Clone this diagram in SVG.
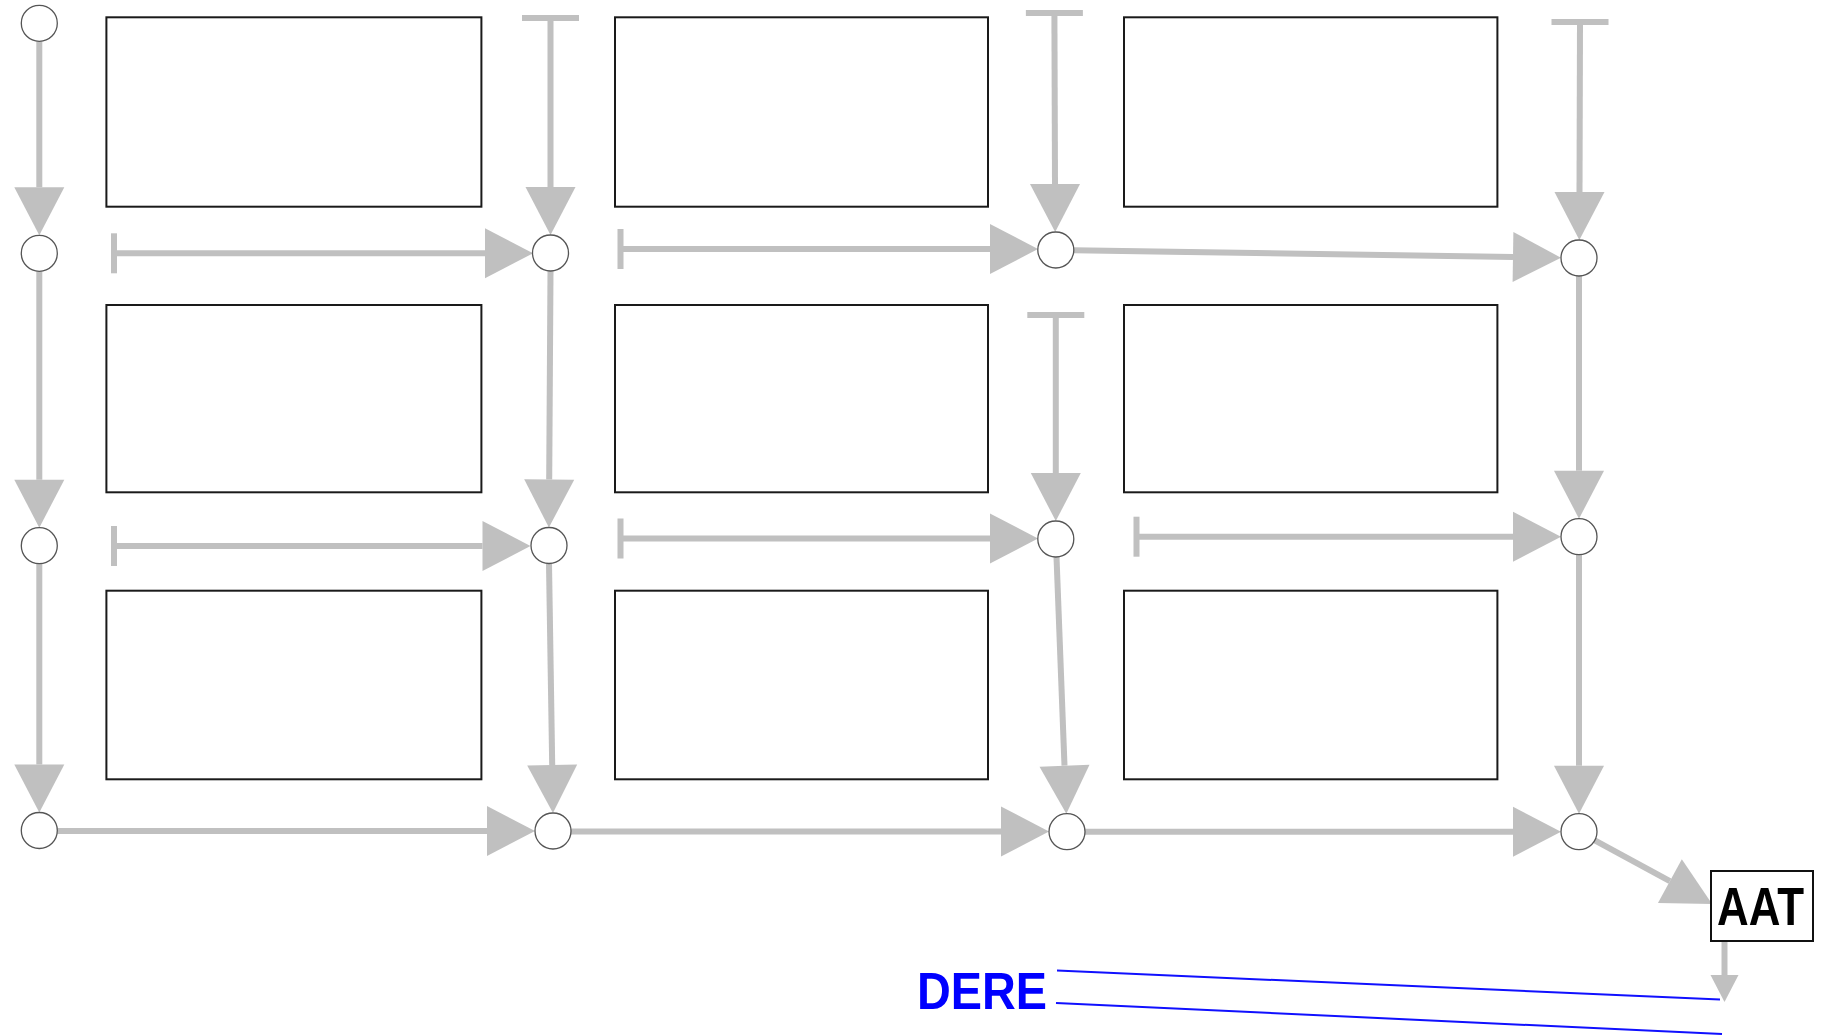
<svg xmlns="http://www.w3.org/2000/svg" width="1821" height="1036" viewBox="0 0 1821 1036">
<style>
.box{fill:#fff;stroke:#1a1a1a;stroke-width:2}
.nd{fill:#fff;stroke:#555;stroke-width:1.3}
.e{stroke:#c0c0c0;stroke-width:6;fill:none;marker-end:url(#ah)}
.t{marker-start:url(#tb)}
.th{marker-start:url(#tbh)}
.blue{stroke:#1010ff;stroke-width:2;fill:none}
.lbl{font-family:"Liberation Sans",Arial,sans-serif;font-weight:bold}
</style>
<defs>
<marker id="ah" markerUnits="userSpaceOnUse" markerWidth="50" markerHeight="52" viewBox="0 -26 50 52" refX="0" refY="0" orient="auto" overflow="visible">
<path d="M0,-25 L48,0 L0,25 z" fill="#c0c0c0"/>
</marker>
<marker id="ahs" markerUnits="userSpaceOnUse" markerWidth="30" markerHeight="30" viewBox="0 -15 30 30" refX="0" refY="0" orient="auto" overflow="visible">
<path d="M0,-14 L27,0 L0,14 z" fill="#c0c0c0"/>
</marker>
<marker id="tb" markerUnits="userSpaceOnUse" markerWidth="8" markerHeight="60" viewBox="-4 -30 8 60" refX="0" refY="0" orient="auto" overflow="visible">
<rect x="-3" y="-28.5" width="6" height="57" fill="#c0c0c0"/>
</marker>
<marker id="tbh" markerUnits="userSpaceOnUse" markerWidth="8" markerHeight="44" viewBox="-4 -22 8 44" refX="0" refY="0" orient="auto" overflow="visible">
<rect x="-3" y="-20" width="6" height="40" fill="#c0c0c0"/>
</marker>
</defs>
<rect width="1821" height="1036" fill="#fff"/>
<g id="blocks">
<rect id="b11" class="box" x="106.4" y="17.3" width="375" height="189.4"/>
<rect id="b12" class="box" x="615" y="17.3" width="373" height="189.4"/>
<rect id="b13" class="box" x="1124" y="17.3" width="373.4" height="189.4"/>
<rect id="b21" class="box" x="106.4" y="305" width="375" height="187.3"/>
<rect id="b22" class="box" x="615" y="305" width="373" height="187.3"/>
<rect id="b23" class="box" x="1124" y="305" width="373.4" height="187.3"/>
<rect id="b31" class="box" x="106.4" y="590.7" width="375" height="188.6"/>
<rect id="b32" class="box" x="615" y="590.7" width="373" height="188.6"/>
<rect id="b33" class="box" x="1124" y="590.7" width="373.4" height="188.6"/>
</g>
<g id="connectors">
<line class="e" x1="39.3" y1="41.3" x2="39.3" y2="187.3"/>
<line class="e" x1="39.3" y1="271.3" x2="39.3" y2="479.7"/>
<line class="e" x1="39.3" y1="563.7" x2="39.3" y2="764.5"/>
<line class="e" x1="57.3" y1="831" x2="487" y2="831"/>
<line class="e" x1="550.5" y1="271" x2="549.2" y2="479.5"/>
<line class="e" x1="549" y1="563.5" x2="552.2" y2="765"/>
<line class="e" x1="571" y1="831.5" x2="1001" y2="831.5"/>
<line class="e" x1="1073.8" y1="250.3" x2="1513" y2="257"/>
<line class="e" x1="1056.5" y1="557" x2="1064.5" y2="765.7"/>
<line class="e" x1="1085" y1="831.7" x2="1513" y2="831.7"/>
<line class="e" x1="1579" y1="276" x2="1579" y2="470.7"/>
<line class="e" x1="1579" y1="554.7" x2="1579" y2="765.7"/>
<line class="e" x1="1594.8" y1="840.3" x2="1669.9" y2="881.1"/>
<line class="e" x1="1724.5" y1="941" x2="1724.5" y2="975" style="marker-end:url(#ahs)"/>
<line class="e t" x1="550.5" y1="18" x2="550.5" y2="187"/>
<line class="e t" x1="1054.4" y1="13" x2="1055" y2="184"/>
<line class="e t" x1="1580" y1="22" x2="1579.5" y2="192"/>
<line class="e t" x1="1055.8" y1="315" x2="1055.8" y2="473"/>
<line class="e th" x1="114" y1="253.3" x2="485" y2="253.3"/>
<line class="e th" x1="620.5" y1="249" x2="990" y2="249"/>
<line class="e th" x1="114" y1="546" x2="482.5" y2="546"/>
<line class="e th" x1="620.5" y1="538.5" x2="990" y2="538.5"/>
<line class="e th" x1="1136.5" y1="536.7" x2="1513" y2="536.7"/>
<line class="blue" x1="1057" y1="970.5" x2="1720" y2="999.5"/>
<line class="blue" x1="1056" y1="1003" x2="1722" y2="1034"/>
</g>
<g id="nodes">
<circle id="n00" class="nd" cx="39.3" cy="23.3" r="18"/>
<circle id="n01" class="nd" cx="39.3" cy="253.3" r="18"/>
<circle id="n02" class="nd" cx="39.3" cy="545.7" r="18"/>
<circle id="n03" class="nd" cx="39.3" cy="830.5" r="18"/>
<circle id="n11" class="nd" cx="550.5" cy="253" r="18"/>
<circle id="n12" class="nd" cx="549" cy="545.5" r="18"/>
<circle id="n13" class="nd" cx="553" cy="831" r="18"/>
<circle id="n21" class="nd" cx="1055.8" cy="250" r="18"/>
<circle id="n22" class="nd" cx="1055.8" cy="539" r="18"/>
<circle id="n23" class="nd" cx="1067" cy="831.7" r="18"/>
<circle id="n31" class="nd" cx="1579" cy="258" r="18"/>
<circle id="n32" class="nd" cx="1579" cy="536.7" r="18"/>
<circle id="n33" class="nd" cx="1579" cy="831.7" r="18"/>
</g>
<g id="aat">
<rect x="1711" y="871" width="102" height="70" fill="#fff" stroke="#111" stroke-width="2"/>
<text class="lbl" x="1717" y="925" font-size="53" fill="#000" textLength="87" lengthAdjust="spacingAndGlyphs">AAT</text>
</g>
<g id="dere">
<text class="lbl" x="917" y="1009.3" font-size="52.5" fill="#0000ff" textLength="130" lengthAdjust="spacingAndGlyphs">DERE</text>
</g>
</svg>
